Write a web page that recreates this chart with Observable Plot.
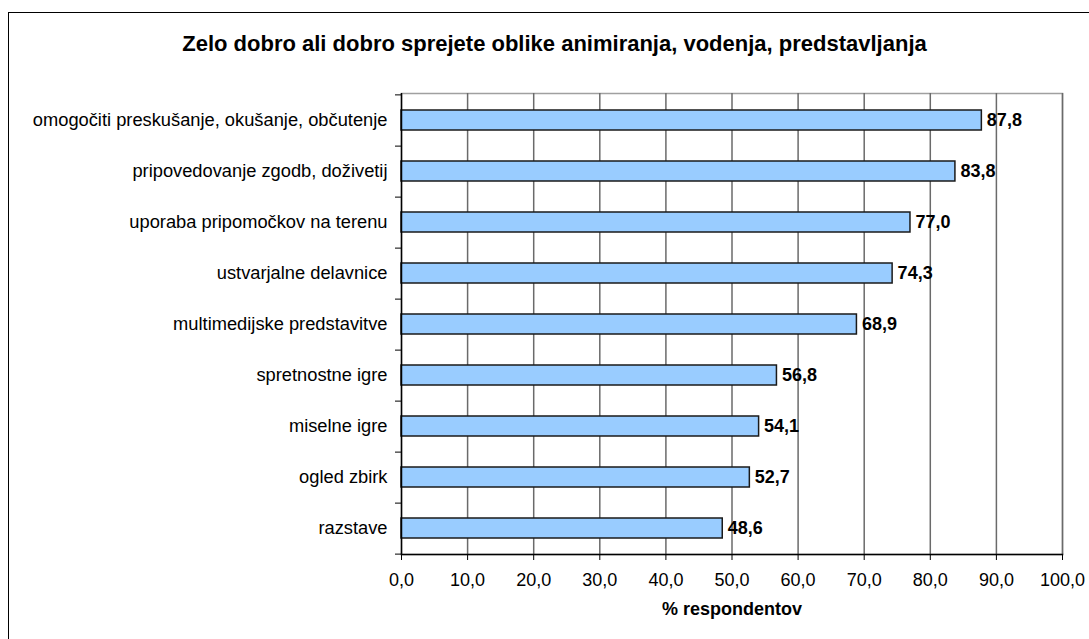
<!DOCTYPE html>
<html>
<head>
<meta charset="utf-8">
<script src="https://cdn.jsdelivr.net/npm/d3@7"></script>
<script src="https://cdn.jsdelivr.net/npm/@observablehq/plot@0.6"></script>
<style>
  html, body { margin: 0; padding: 0; background: #fff; overflow: hidden; }
  #wrap { position: relative; width: 1089px; height: 639px; overflow: hidden; }
  #border { position: absolute; left: 8px; top: 12px; width: 2000px; height: 2000px; border: 1.5px solid #000; box-sizing: border-box; pointer-events: none; }
  #title { position: absolute; left: 0; width: 1109px; top: 31px; text-align: center; font: bold 22px "Liberation Sans", Arial, sans-serif; color: #000; }
  #chart { position: absolute; left: 0; top: 0; }
</style>
</head>
<body>
<div id="wrap">
  <div id="chart"></div>
  <div id="border"></div>
  <div id="title"></div>
</div>
<script>
const title = "Zelo dobro ali dobro sprejete oblike animiranja, vodenja, predstavljanja";
const categories = [
  "omogočiti preskušanje, okušanje, občutenje",
  "pripovedovanje zgodb, doživetij",
  "uporaba pripomočkov na terenu",
  "ustvarjalne delavnice",
  "multimedijske predstavitve",
  "spretnostne igre",
  "miselne igre",
  "ogled zbirk",
  "razstave"
];
const values = [87.8, 83.8, 77.0, 74.3, 68.9, 56.8, 54.1, 52.7, 48.6];
const xTicks = [0, 10, 20, 30, 40, 50, 60, 70, 80, 90, 100];
const xLabel = "% respondentov";

document.getElementById("title").textContent = title;

const data = categories.map((name, i) => ({name, value: values[i]}));
const fmt = v => v.toFixed(1).replace(".", ",");

const W = 1089, H = 639, mT = 93, mB = 85, mL = 401, mR = 27;
const step = (H - mT - mB) / categories.length;

const chart = Plot.plot({
  width: W, height: H,
  marginTop: mT, marginBottom: mB, marginLeft: mL, marginRight: mR,
  style: {fontFamily: "'Liberation Sans', Arial, sans-serif", fontSize: "18px", color: "#000", background: "transparent", overflow: "visible"},
  x: {domain: [0, 100]},
  y: {domain: categories, paddingInner: 0.61, paddingOuter: 0.305},
  marks: [
    Plot.frame({stroke: "#a0a0a0", strokeWidth: 1.5}),
    Plot.gridX(xTicks.slice(1), {stroke: "#6a6a6a", strokeOpacity: 1, strokeWidth: 1.5}),
    Plot.barX(data, {x: "value", y: "name", fill: "#99CCFF", stroke: "#1a1a1a", strokeWidth: 1.5}),
    Plot.text(data, {x: "value", y: "name", text: d => fmt(d.value), textAnchor: "start", dx: 5, fontWeight: "bold", fill: "#000"}),
    Plot.axisX({ticks: xTicks, tickFormat: fmt, tickSize: 6, tickPadding: 13, label: null, stroke: "#000"}),
    Plot.axisY({tickSize: 0, tickPadding: 14, label: null, fontSize: 18.3}),
    Plot.axisY({ticks: categories, tickFormat: () => "", tickSize: 6, dy: step / 2, label: null}),
    Plot.axisY({ticks: [categories[0]], tickFormat: () => "", tickSize: 6, dy: -step / 2, label: null}),
    Plot.ruleX([0], {stroke: "#000", strokeWidth: 1.5}),
    Plot.frame({anchor: "bottom", stroke: "#000", strokeWidth: 1.5}),
    Plot.text([xLabel], {frameAnchor: "bottom", dy: 60, fontWeight: "bold", fill: "#000", text: d => d})
  ]
});
document.getElementById("chart").appendChild(chart);
</script>
</body>
</html>
